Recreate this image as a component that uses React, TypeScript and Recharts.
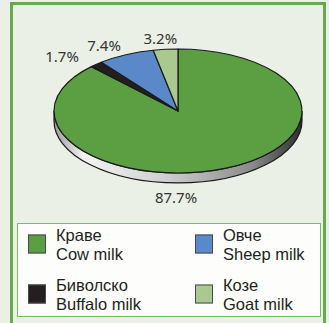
import { PieChart, Pie, Cell, Legend } from 'recharts'

const namesBg = ['Краве', 'Биволско', 'Овче', 'Козе']
const namesEn = ['Cow milk', 'Buffalo milk', 'Sheep milk', 'Goat milk']
const shares = [87.7, 1.7, 7.4, 3.2]
const colors = ['#5c9e42', '#231f20', '#5b88c9', '#aac98f']

const data = namesBg.map((n, i) => ({ name: n, en: namesEn[i], value: shares[i] }))

const TILT = 0.5
const DEPTH = 10
const RAD = Math.PI / 180

function pt(cx: number, cy: number, rx: number, ry: number, a: number) {
  return [cx + rx * Math.cos(a * RAD), cy - ry * Math.sin(a * RAD)]
}

function Slice3D(props: any) {
  const { cx, cy, outerRadius, startAngle, endAngle, fill, index } = props
  const rx = outerRadius
  const ry = outerRadius * TILT
  const hi = Math.max(startAngle, endAngle)
  const lo = Math.min(startAngle, endAngle)
  const [x1, y1] = pt(cx, cy, rx, ry, hi)
  const [x2, y2] = pt(cx, cy, rx, ry, lo)
  const large = hi - lo > 180 ? 1 : 0
  const top = `M${cx},${cy} L${x1},${y1} A${rx},${ry} 0 ${large} 1 ${x2},${y2} Z`

  // front wall, only where the slice faces the viewer
  const sides: string[] = []
  for (const k of [-360, 0, 360]) {
    const a = Math.max(lo, -180 + k)
    const b = Math.min(hi, k)
    if (b > a) {
      const [ax, ay] = pt(cx, cy, rx, ry, a)
      const [bx, by] = pt(cx, cy, rx, ry, b)
      sides.push(
        `M${ax},${ay} A${rx},${ry} 0 0 0 ${bx},${by} L${bx},${by + DEPTH} A${rx},${ry} 0 0 1 ${ax},${ay + DEPTH} Z`
      )
    }
  }
  const gid = `side-grad-${index}`
  return (
    <g>
      <defs>
        <linearGradient id={gid} gradientUnits="userSpaceOnUse" x1={cx - rx} x2={cx + rx} y1={0} y2={0}>
          <stop offset="0%" stopColor="#9a9a9a" />
          <stop offset="12%" stopColor="#f4f4f4" />
          <stop offset="45%" stopColor="#cfcfcf" />
          <stop offset="80%" stopColor="#8a8a8a" />
          <stop offset="100%" stopColor="#2e2e2e" />
        </linearGradient>
      </defs>
      {sides.map((d, i) => (
        <path key={i} d={d} fill={`url(#${gid})`} stroke="#1a1a1a" strokeWidth={1.2} />
      ))}
      <path d={top} fill={fill} stroke="#1a1a1a" strokeWidth={1.2} strokeLinejoin="round" />
    </g>
  )
}

function renderLabel(props: any) {
  const { cx, cy, midAngle, outerRadius, percent, index } = props
  const rx = outerRadius
  const ry = outerRadius * TILT
  let x: number
  let y: number
  if (percent > 0.5) {
    x = cx - 2
    y = cy + ry + DEPTH + 14
  } else {
    x = cx + (rx + 52) * Math.cos(midAngle * RAD)
    y = cy - (ry + 11) * Math.sin(midAngle * RAD)
  }
  return (
    <text
      x={x}
      y={y}
      textAnchor="middle"
      dominantBaseline="central"
      fill="#333"
      fontSize={15}
      fontFamily="Noto Sans"
    >
      {shares[index].toFixed(1)}%
    </text>
  )
}

const itemPos = [
  { left: 10, top: 20 },
  { left: 10, top: 70 },
  { left: 177, top: 20 },
  { left: 177, top: 70 },
]

function LegendBox() {
  return (
    <div
      style={{
        position: 'relative',
        width: 304,
        height: 94,
        boxSizing: 'border-box',
        border: '1.5px solid #7dba69',
        background: '#fdfefc',
        fontFamily: 'Liberation Sans',
      }}
    >
      {data.map((d, i) => (
        <div
          key={d.name}
          style={{
            position: 'absolute',
            left: itemPos[i].left,
            top: itemPos[i].top,
            transform: 'translateY(-50%)',
            display: 'flex',
            alignItems: 'center',
          }}
        >
          <div
            style={{
              width: 18,
              height: 19,
              boxSizing: 'border-box',
              border: '1.5px solid #4a4a4a',
              background: colors[i],
              marginRight: 10,
            }}
          />
          <div style={{ fontSize: 16.5, lineHeight: '18.5px', color: '#231f20', whiteSpace: 'nowrap' }}>
            <div>{d.name}</div>
            <div>{d.en}</div>
          </div>
        </div>
      ))}
    </div>
  )
}

export default function App() {
  return (
    <div
      style={{
        position: 'relative',
        width: 329,
        height: 323,
        overflow: 'hidden',
        background: '#eaf0e6',
      }}
    >
      <style>{`body{margin:0}`}</style>
      <div
        style={{
          position: 'absolute',
          left: 10,
          top: 2,
          width: 316,
          height: 360,
          boxSizing: 'border-box',
          border: '3px solid #6aa84f',
        }}
      />
      <div style={{ position: 'absolute', left: 0, top: 0 }}>
        <PieChart width={329} height={323}>
          <Pie
            data={data}
            dataKey="value"
            nameKey="name"
            cx={173}
            cy={106}
            outerRadius={124}
            startAngle={90}
            endAngle={-270}
            shape={Slice3D}
            label={renderLabel}
            labelLine={false}
            isAnimationActive={false}
          >
            {data.map((d, i) => (
              <Cell key={d.name} fill={colors[i]} />
            ))}
          </Pie>
          <Legend
            content={() => <LegendBox />}
            wrapperStyle={{ position: 'absolute', left: 17, top: 223, width: 304, height: 94 }}
          />
        </PieChart>
      </div>
    </div>
  )
}
